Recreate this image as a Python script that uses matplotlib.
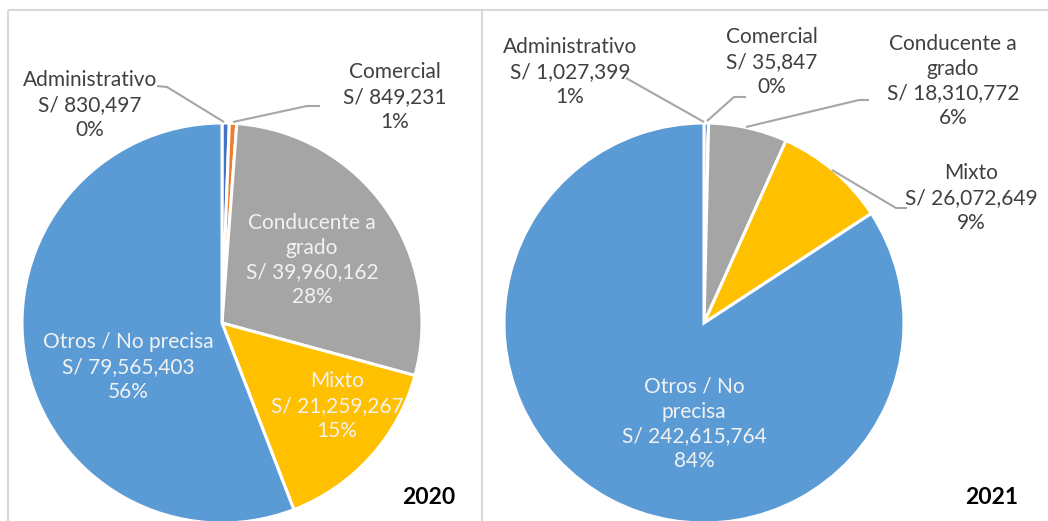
import matplotlib.pyplot as plt
from matplotlib.patches import Rectangle

# datos
categorias = ["Administrativo", "Comercial", "Conducente a\ngrado", "Mixto", "Otros / No precisa"]
montos_2020 = [830497, 849231, 39960162, 21259267, 79565403]
porcentajes_2020 = ["0%", "1%", "28%", "15%", "56%"]
montos_2021 = [1027399, 35847, 18310772, 26072649, 242615764]
porcentajes_2021 = ["1%", "0%", "6%", "9%", "84%"]
colores = ["#4472C4", "#ED7D31", "#A5A5A5", "#FFC000", "#5B9BD5"]

W, H = 1048, 521
plt.rcParams['font.family'] = ['Lato', 'DejaVu Sans']

fig = plt.figure(figsize=(W / 100, H / 100), dpi=100)
ax = fig.add_axes([0, 0, 1, 1])


def dibujar_pie(montos, cx, cy):
    ax.pie(montos, colors=colores, startangle=-90, counterclock=True,
           center=(cx, cy), radius=200,
           wedgeprops=dict(edgecolor="white", linewidth=2.2))


def etiqueta(i, montos, pcts, x, y, color, nombre=None):
    nombre = nombre if nombre is not None else categorias[i]
    txt = f"{nombre}\nS/ {montos[i]:,}\n{pcts[i]}"
    ax.text(x, y, txt, ha="center", va="center", fontsize=15,
            color=color, linespacing=1.3)


def guia(puntos):
    xs = [p[0] for p in puntos]
    ys = [p[1] for p in puntos]
    ax.plot(xs, ys, color="#A6A6A6", lw=1.5, solid_capstyle="butt")


dibujar_pie(montos_2020, 222, 323)
dibujar_pie(montos_2021, 704, 323)

gris = "#404040"
blanco = "#F2F2F2"

# 2020
etiqueta(0, montos_2020, porcentajes_2020, 90, 105, gris)
etiqueta(1, montos_2020, porcentajes_2020, 395, 97, gris)
etiqueta(2, montos_2020, porcentajes_2020, 312, 260, blanco)
etiqueta(3, montos_2020, porcentajes_2020, 337, 406, blanco)
etiqueta(4, montos_2020, porcentajes_2020, 128, 367, blanco)
guia([(157, 86), (167, 87), (224, 122)])
guia([(320, 106), (307, 106), (233, 122)])
ax.text(429, 497, "2020", ha="center", va="center", fontsize=16.5,
        fontweight="bold", color="black")

# 2021
etiqueta(0, montos_2021, porcentajes_2021, 570, 72, gris)
etiqueta(1, montos_2021, porcentajes_2021, 772, 62, gris)
etiqueta(2, montos_2021, porcentajes_2021, 953, 81, gris)
etiqueta(3, montos_2021, porcentajes_2021, 971, 198, gris)
etiqueta(4, montos_2021, porcentajes_2021, 694, 424, blanco,
         nombre="Otros / No\nprecisa")
guia([(626, 78), (704, 122)])
guia([(746, 97), (734, 97), (707, 121)])
guia([(869, 100), (859, 100), (746, 127)])
guia([(907, 208), (896, 208), (832, 170)])
ax.text(992, 497, "2021", ha="center", va="center", fontsize=16.5,
        fontweight="bold", color="black")

# marcos
ax.add_patch(Rectangle((8, 9.5), 1045, 530, fill=False, edgecolor="#D9D9D9", lw=1.5))
ax.plot([482, 482], [9.5, H], color="#D9D9D9", lw=1.5)

ax.set_xlim(0, W)
ax.set_ylim(H, 0)
ax.set_aspect("equal")
ax.axis("off")

fig.savefig("out.png", dpi=100, facecolor="white")
